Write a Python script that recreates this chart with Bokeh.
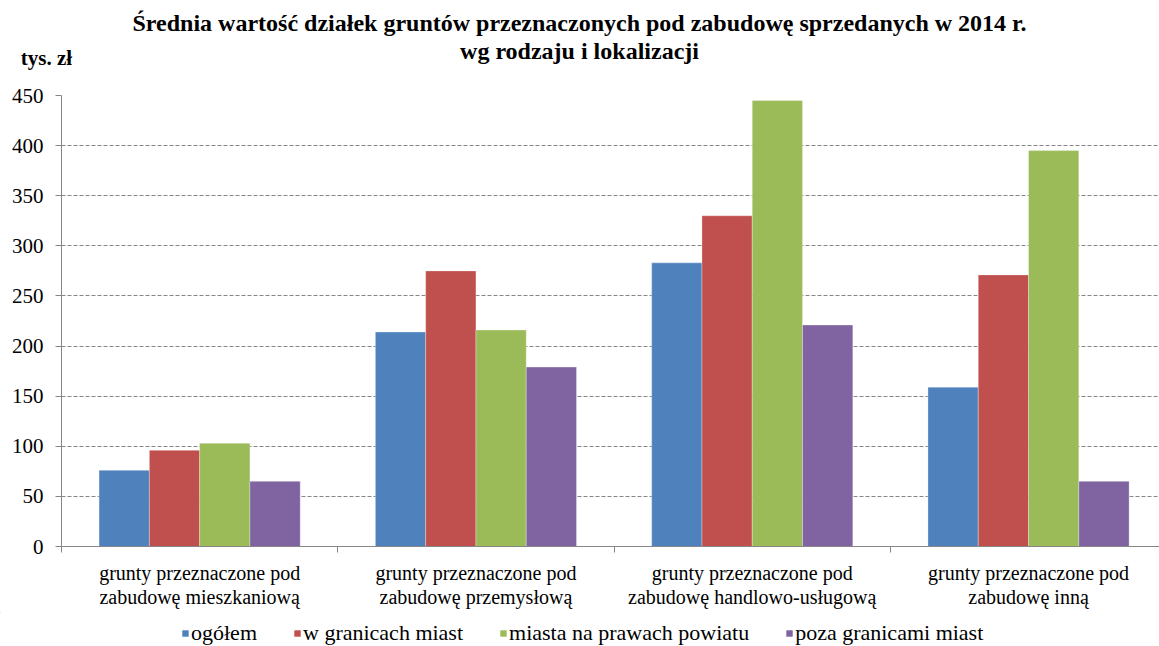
from bokeh.plotting import figure
from bokeh.layouts import column
from bokeh.models import Range1d, FixedTicker, Label, Legend, LegendItem
from bokeh.embed import file_html
from bokeh.resources import INLINE

title_lines = ["Średnia wartość działek gruntów przeznaczonych pod zabudowę sprzedanych w 2014 r.",
               "wg rodzaju i lokalizacji"]
unit_label = "tys. zł"
categories = [
    "grunty przeznaczone pod\nzabudowę mieszkaniową",
    "grunty przeznaczone pod\nzabudowę przemysłową",
    "grunty przeznaczone pod\nzabudowę handlowo-usługową",
    "grunty przeznaczone pod\nzabudowę inną",
]
series_names = ["ogółem", "w granicach miast", "miasta na prawach powiatu", "poza granicami miast"]
ogolem = [76, 214, 283, 159]
w_granicach_miast = [96, 275, 330, 271]
miasta_na_prawach_powiatu = [103, 216, 445, 395]
poza_granicami_miast = [65, 179, 221, 65]
y_ticks = [0, 50, 100, 150, 200, 250, 300, 350, 400, 450]

colors = ["#4F81BD", "#C0504D", "#9BBB59", "#8064A2"]
series = [ogolem, w_granicach_miast, miasta_na_prawach_powiatu, poza_granicami_miast]

SERIF = "Liberation Serif"
W = 1159
H0, H1, H2 = 83, 529, 34          # title strip, chart, legend strip
FL, FT, FB = 61, 12, 66           # chart frame borders


def no_align(f):
    try:
        f.frame_align = False
    except AttributeError:
        pass


def strip(h):
    f = figure(width=W, height=h, output_backend="svg", toolbar_location=None,
               x_axis_type=None, y_axis_type=None,
               x_range=Range1d(0, 1), y_range=Range1d(0, 1),
               min_border_left=0, min_border_right=0, min_border_top=0, min_border_bottom=0)
    f.grid.visible = False
    f.outline_line_color = None
    f.background_fill_color = "white"
    f.border_fill_color = "white"
    no_align(f)
    return f


# ---- title strip (screen units measured from the strip frame's bottom-left)
p0 = strip(H0)
def lab(text, px, py, size):
    p0.add_layout(Label(x=px, y=H0 - py, x_units="screen", y_units="screen",
                        text=text, text_font=SERIF, text_font_style="bold", text_color="black",
                        text_font_size=size, text_align="center", text_baseline="middle"))
lab(title_lines[0], 579, 22, "24px")
lab(title_lines[1], 579, 50, "24px")
lab(unit_label, 46, 57, "21px")

# ---- main chart
p = figure(width=W, height=H1, output_backend="svg", toolbar_location=None,
           x_range=Range1d(0, 3.974), y_range=Range1d(0, 450),
           min_border_left=FL, min_border_right=0, min_border_top=FT, min_border_bottom=FB)
p.outline_line_color = None
p.background_fill_color = "white"
p.border_fill_color = "white"
no_align(p)

centers = [i + 0.5 for i in range(len(categories))]
bw = 0.182
offsets = [-1.5 * bw, -0.5 * bw, 0.5 * bw, 1.5 * bw]
for vals, col, off in zip(series, colors, offsets):
    p.vbar(x=[c + off for c in centers], top=vals, width=bw, bottom=0,
           fill_color=col, line_color="white", line_alpha=0.5, line_width=0.6)

p.xgrid.visible = False
p.ygrid.ticker = FixedTicker(ticks=y_ticks)
p.ygrid.grid_line_color = "#868686"
p.ygrid.grid_line_dash = "4 2"
p.ygrid.grid_line_width = 1

ya = p.yaxis[0]
ya.ticker = FixedTicker(ticks=y_ticks)
ya.axis_line_color = "#868686"
ya.major_tick_line_color = "#868686"
ya.major_tick_out = 6
ya.major_tick_in = 0
ya.minor_tick_out = 0
ya.major_label_standoff = 12
ya.major_label_text_font = SERIF
ya.major_label_text_font_size = "21px"
ya.major_label_text_color = "black"

xa = p.xaxis[0]
xa.ticker = FixedTicker(ticks=centers, minor_ticks=[0, 1, 2, 3, 4])
xa.major_label_overrides = {c: t for c, t in zip(centers, categories)}
xa.axis_line_color = "#868686"
xa.major_tick_out = 0
xa.major_tick_in = 0
xa.minor_tick_line_color = "#868686"
xa.minor_tick_out = 6
xa.minor_tick_in = 0
xa.major_label_standoff = 9
xa.major_label_text_font = SERIF
xa.major_label_text_font_size = "20px"
xa.major_label_text_color = "black"
xa.major_label_text_line_height = 1.12

# ---- legend strip (legend swatches come from renderers placed outside the strip's view)
p2 = strip(H2)
legend_renderers = [p2.vbar(x=[-10], top=[6], bottom=[5], width=0.1, fill_color=col, line_color=None)
                    for col in colors]
legend = Legend(items=[LegendItem(label=n, renderers=[r]) for n, r in zip(series_names, legend_renderers)],
                location=(181, 0), orientation="horizontal",
                glyph_width=8, glyph_height=8, label_standoff=2, spacing=36,
                padding=0, margin=0, border_line_color=None, background_fill_alpha=0,
                label_text_font=SERIF, label_text_font_size="22px", label_text_color="black")
p2.add_layout(legend, "center")

open("out.html", "w").write(file_html(column(p0, p, p2, spacing=0), INLINE))
